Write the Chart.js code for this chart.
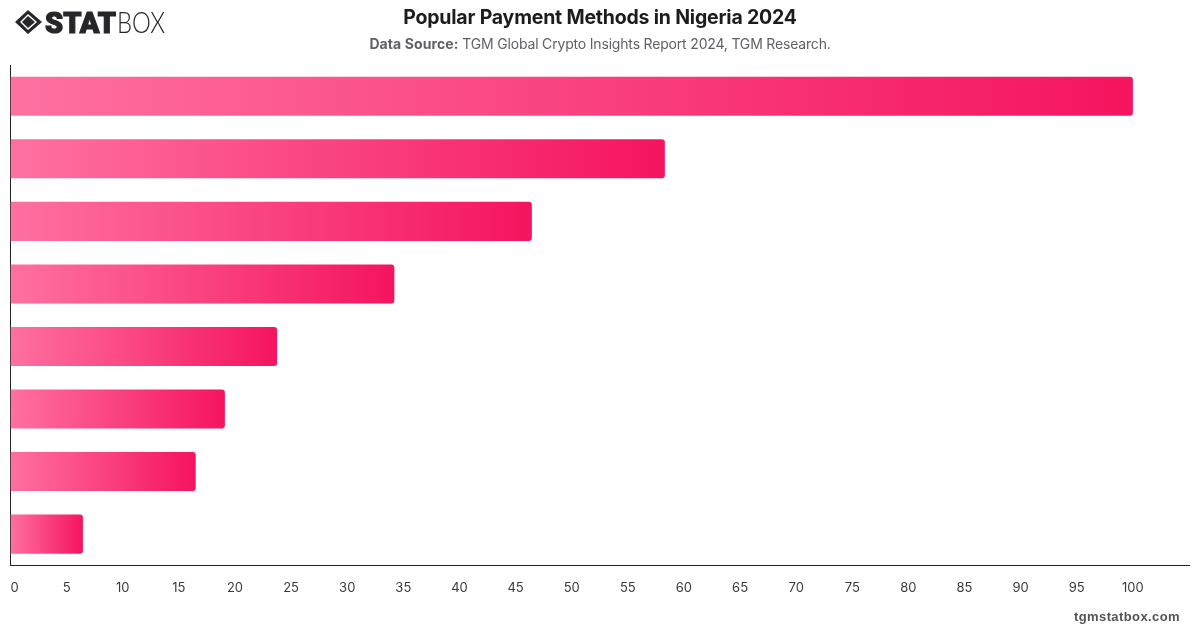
<!DOCTYPE html>
<html>
<head>
<meta charset="utf-8">
<title>Popular Payment Methods in Nigeria 2024</title>
<script src="https://cdn.jsdelivr.net/npm/chart.js@4"></script>
<style>
    html, body { margin: 0; padding: 0; background: #fff; }
    #wrap { position: relative; width: 1200px; height: 628px; overflow: hidden; font-family: Inter, sans-serif; }
    #chart { position: absolute; left: 0; top: 0; }
    #title { position: absolute; left: 0; width: 1200px; top: 5px; text-align: center; font-size: 19.5px; letter-spacing: -0.2px; line-height: 24px; font-weight: 700; color: #1c1c1e; }
    #source { position: absolute; left: 0; width: 1200px; top: 35px; text-align: center; font-size: 14px; letter-spacing: -0.18px; line-height: 18px; color: #5f5f66; }
    #source b { letter-spacing: 0.1px; }
    #site { position: absolute; right: 20px; top: 609px; font-family: "Liberation Sans", sans-serif; font-size: 13px; line-height: 16px; font-weight: 700; letter-spacing: 0.4px; color: #555; }
    #logo { position: absolute; left: 14px; top: 8px; }
</style>
</head>
<body>
<div id="wrap">
    <canvas id="chart" width="1200" height="628"></canvas>
    <svg id="logo" width="156" height="28" viewBox="0 0 156 28">
        <path d="M14 2 L28 14 L14 26 L1 14 Z M14 6 L6 14 L14 22 L23 14 Z" fill="#26262a" fill-rule="evenodd"/>
        <path d="M14 8 L21 14 L14 20 L8 14 Z" fill="#26262a"/>
        <text x="31" y="25" font-family="Roboto, sans-serif" font-weight="900" font-size="29" fill="#26262a" stroke="#26262a" stroke-width="1.2" textLength="71" lengthAdjust="spacingAndGlyphs">STAT</text>
        <text x="103" y="25" font-family="Lato, sans-serif" font-weight="300" font-size="29" fill="#26262a" textLength="48" lengthAdjust="spacingAndGlyphs">BOX</text>
    </svg>
    <div id="title">Popular Payment Methods in Nigeria 2024</div>
    <div id="source"><b>Data Source:</b> TGM Global Crypto Insights Report 2024, TGM Research.</div>
    <div id="site">tgmstatbox.com</div>
</div>
<script>
var categories = ['Method 1', 'Method 2', 'Method 3', 'Method 4', 'Method 5', 'Method 6', 'Method 7', 'Method 8'];
var shares = [100, 58.3, 46.45, 34.2, 23.75, 19.1, 16.5, 6.45];
var axisMax = 105;
var lastLabel = 100;

// each bar gets its own left-to-right fade, ending at the bar tip
function barGradient(context) {
    var chart = context.chart;
    if (!chart.chartArea) return '#f5145f';
    var xScale = chart.scales.x;
    var x0 = xScale.getPixelForValue(0);
    var x1 = xScale.getPixelForValue(context.raw);
    var g = chart.ctx.createLinearGradient(x0, 0, x1, 0);
    g.addColorStop(0, '#ff70a1');
    g.addColorStop(1, '#f5145f');
    return g;
}

var ctx = document.getElementById('chart').getContext('2d');
var paymentChart = new Chart(ctx, {
    type: 'bar',
    data: {
        labels: categories,
        datasets: [
            {
                label: 'Share',
                data: shares,
                backgroundColor: barGradient,
                borderRadius: { topRight: 3, bottomRight: 3 },
                borderSkipped: false,
                barPercentage: 0.625,
                categoryPercentage: 1
            }
        ]
    },
    options: {
        indexAxis: 'y',
        responsive: false,
        animation: false,
        layout: { padding: { left: 10.5, right: 11, top: 65, bottom: 17 } },
        plugins: {
            legend: { display: false },
            tooltip: { enabled: false }
        },
        scales: {
            x: {
                min: 0,
                max: axisMax,
                grid: { display: false, drawTicks: false },
                border: { color: '#222', width: 1 },
                // the tick labels should not push the plot area inwards
                afterFit: function (scale) {
                    scale.paddingLeft = 0;
                    scale.paddingRight = 0;
                },
                ticks: {
                    stepSize: 5,
                    autoSkip: false,
                    maxRotation: 0,
                    align: 'inner',
                    padding: 15,
                    color: '#3a3a3c',
                    font: { family: 'Inter', size: 13 },
                    callback: function (value) { return value <= lastLabel ? value : ''; }
                }
            },
            y: {
                grid: { display: false, drawTicks: false },
                border: { color: '#222', width: 1 },
                ticks: { display: false }
            }
        }
    }
});
</script>
</body>
</html>
